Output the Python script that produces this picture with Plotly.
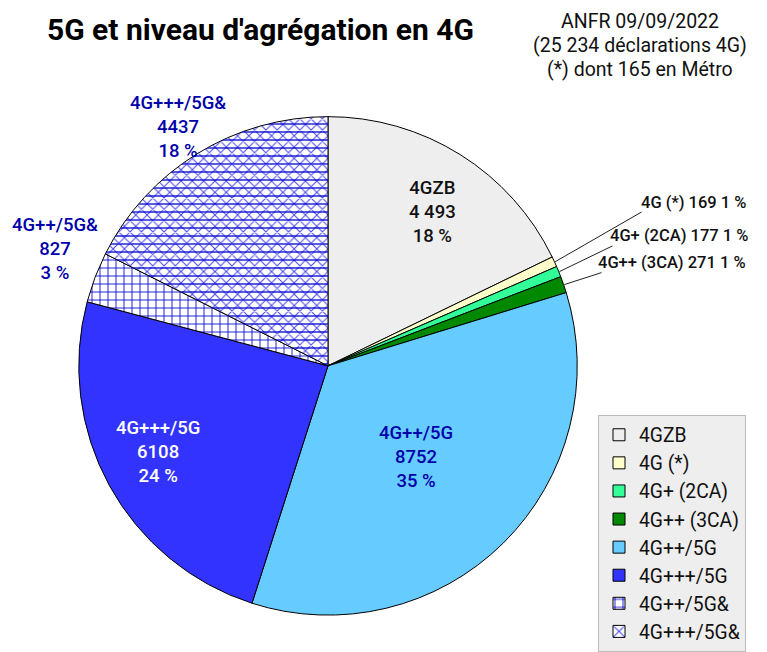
import math
import plotly.graph_objects as go

# ---- data ----
labels = ["4GZB", "4G (*)", "4G+ (2CA)", "4G++ (3CA)", "4G++/5G", "4G+++/5G", "4G++/5G&", "4G+++/5G&"]
values = [4493, 169, 177, 271, 8752, 6108, 827, 4437]
colors = ["#EEEEEE", "#FFFFCC", "#33FF99", "#008800", "#66CCFF", "#3333FF", "#FFFFFF", "#FFFFFF"]
value_text = ["4 493", "169", "177", "271", "8752", "6108", "827", "4437"]
pct_text = ["18 %", "1 %", "1 %", "1 %", "35 %", "24 %", "3 %", "18 %"]
title_text = "5G et niveau d'agrégation en 4G"
note_lines = ["ANFR 09/09/2022", "(25 234 déclarations 4G)", "(*) dont 165 en Métro"]

W, H = 767, 652
CX, CY, R = 328, 367, 250  # pie centre / radius in pixels

def px(x):
    return x / W

def py(y):
    return 1 - y / H

shapes = ["", "", "", "", "", "", "+", "x"]
fg = ["#000000"] * 6 + ["#0000CC", "#4848EE"]
bg = colors[:]
solid = [0.3] * 6 + [0.2, 0.24]

fig = go.Figure()
fig.add_trace(go.Pie(
    labels=labels, values=values, sort=False, direction="clockwise", rotation=0,
    domain=dict(x=[px(CX - R), px(CX + R)], y=[py(CY + R), py(CY - R)]),
    marker=dict(colors=colors, line=dict(color="#000000", width=1),
                pattern=dict(shape=shapes, fgcolor=fg, bgcolor=bg, size=8, solidity=solid)),
    textinfo="none", hoverinfo="label+value+percent",
))
# overlay: horizontal lines for the last slice
ov_colors = ["rgba(0,0,0,0)"] * 8
ov_shapes = [""] * 7 + ["-"]
fig.add_trace(go.Pie(
    labels=labels, values=values, sort=False, direction="clockwise", rotation=0,
    domain=dict(x=[px(CX - R), px(CX + R)], y=[py(CY + R), py(CY - R)]),
    marker=dict(colors=ov_colors, line=dict(color="rgba(0,0,0,0)", width=0),
                pattern=dict(shape=ov_shapes, fgcolor=["#0000CC"] * 8,
                             bgcolor=["rgba(0,0,0,0)"] * 8, size=8, solidity=0.16)),
    textinfo="none", hoverinfo="skip", showlegend=False,
))

total = sum(values)
mids = []
acc = 0
for v in values:
    mids.append((acc + v / 2) / total * 2 * math.pi)
    acc += v

annotations = []
# slice labels: (index, radius factor, nudge x, nudge y, colour)
inner = {0: (0.75, 5, 5, "#111111"), 4: (0.50, 0, 3, "#0000AA"), 5: (0.75, -5, -4, "#FFFFFF"),
         6: (1.21, 10, -10, "#0000AA"), 7: (1.13, -2, 1, "#0000AA")}
for i, (rf, dx, dy, col) in inner.items():
    a = mids[i]
    x = CX + rf * R * math.sin(a) + dx
    y = CY - rf * R * math.cos(a) + dy
    annotations.append(dict(
        x=px(x), y=py(y), xref="paper", yref="paper", showarrow=False,
        text=f"{labels[i]}<br>{value_text[i]}<br>{pct_text[i]}",
        font=dict(family="Roboto", size=18.5, color=col, weight=500),
        xanchor="center", yanchor="middle", align="center"))

# outside labels with leader lines: (index, text-end x, text y, line tail x, line tail y)
outer = {1: (748, 203, 643, 212), 2: (750, 236, 614, 246), 3: (748, 263, 603, 273)}
for i, (tx, ty, lx, ly) in outer.items():
    a = mids[i]
    ex = CX + R * math.sin(a)
    ey = CY - R * math.cos(a)
    annotations.append(dict(
        x=px(ex), y=py(ey), xref="paper", yref="paper",
        ax=lx - ex, ay=ly - ey, axref="pixel", ayref="pixel",
        showarrow=True, arrowhead=0, arrowwidth=1, arrowcolor="#222222",
        text="", standoff=0, startstandoff=0))
    annotations.append(dict(
        x=px(tx), y=py(ty), xref="paper", yref="paper", showarrow=False,
        text=f"{labels[i]} {value_text[i]} {pct_text[i]}",
        font=dict(family="Roboto", size=16.5, color="#111111", weight=500),
        xanchor="right", yanchor="middle"))

annotations.append(dict(
    x=px(260), y=py(30), xref="paper", yref="paper", showarrow=False,
    text=f"<b>{title_text}</b>", font=dict(family="Roboto", size=30, color="#000000"),
    xanchor="center", yanchor="middle"))
for k, line in enumerate(note_lines):
    annotations.append(dict(
        x=px(640), y=py(22 + 24 * k), xref="paper", yref="paper", showarrow=False,
        text=line, font=dict(family="Roboto", size=19.5, color="#111111"),
        xanchor="center", yanchor="middle"))

fig.update_layout(
    width=W, height=H, margin=dict(l=0, r=0, t=0, b=0),
    paper_bgcolor="#FFFFFF", plot_bgcolor="#FFFFFF",
    annotations=annotations,
    showlegend=True,
    legend=dict(x=px(598), y=py(416), xanchor="left", yanchor="top",
                bgcolor="#EEEEEE", bordercolor="#BBBBBB", borderwidth=1,
                font=dict(family="Roboto", size=19.3, color="#111111"),
                traceorder="normal", entrywidth=126, entrywidthmode="pixels"),
)
fig.write_html("out.html", config={"displayModeBar": False},
               post_script="document.body.style.margin='0px';")
